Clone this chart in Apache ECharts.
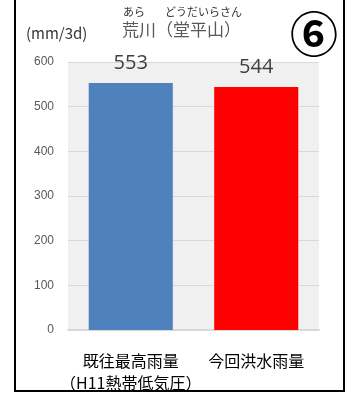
<!DOCTYPE html>
<html><head><meta charset="utf-8">
<script src="https://cdn.jsdelivr.net/npm/echarts@6/dist/echarts.min.js"></script>
<style>html,body{margin:0;padding:0;background:#fff}#c{width:356px;height:394px}</style>
</head><body><div id="c"></div>
<script>
var categories = ['既往最高雨量\n（H11熱帯低気圧）', '今回洪水雨量'];
var values = [553, 544];
var barColors = ['#4f81bd', '#ff0000'];
var yTicks = [0, 100, 200, 300, 400, 500, 600];
var titleText = '荒川（堂平山）';
var unitText = '(mm/3d)';
var badgeText = '⑥';

var chart = echarts.init(document.getElementById('c'), null, {renderer: 'canvas'});
var font = '"Noto Sans CJK JP", "Noto Sans", sans-serif';
chart.setOption({
  animation: false,
  textStyle: {fontFamily: font},
  grid: {left: 68, right: 37, top: 62, bottom: 64, show: true, backgroundColor: '#f0f0f0', borderWidth: 0},
  xAxis: {
    type: 'category', data: categories,
    axisLine: {show: true, lineStyle: {color: '#d9d9d9', width: 2}},
    axisTick: {show: false},
    axisLabel: {interval: 0, fontSize: 16, color: '#000', margin: 20, lineHeight: 22, fontFamily: font}
  },
  yAxis: {
    type: 'value', min: yTicks[0], max: yTicks[yTicks.length - 1], interval: 100,
    axisLine: {show: false}, axisTick: {show: false},
    splitLine: {lineStyle: {color: '#d9d9d9', width: 1}},
    axisLabel: {fontSize: 12, color: '#595959', margin: 14, fontFamily: 'Liberation Sans, Arial, sans-serif'}
  },
  series: [{
    type: 'bar', barWidth: '67%',
    data: values.map(function (v, i) { return {value: v, itemStyle: {color: barColors[i]}}; }),
    label: {show: true, position: 'top', distance: 10, fontSize: 20, color: '#404040', fontFamily: 'Open Sans, Liberation Sans, sans-serif'}
  }],
  graphic: [
    {type: 'rect', shape: {x: 14, y: 0, width: 2, height: 392}, style: {fill: '#000'}},
    {type: 'rect', shape: {x: 343, y: 0, width: 2, height: 392}, style: {fill: '#000'}},
    {type: 'rect', shape: {x: 14, y: 390, width: 331, height: 2}, style: {fill: '#000'}},
    {type: 'text', left: 122, top: 21, style: {text: titleText, fontSize: 17, fill: '#595959', fontFamily: font}},
    {type: 'text', left: 123, top: 6, style: {text: 'あら', fontSize: 11, fill: '#333', fontFamily: font}},
    {type: 'text', left: 165, top: 6, style: {text: 'どうだいらさん', fontSize: 11, fill: '#333', fontFamily: font}},
    {type: 'text', left: 26, top: 26, style: {text: unitText, fontSize: 15, fill: '#333', fontFamily: font}},
    {type: 'text', left: 290, top: 10, style: {text: badgeText, fontSize: 48, fontWeight: 'bold', fill: '#000', fontFamily: font}}
  ]
});
</script></body></html>
